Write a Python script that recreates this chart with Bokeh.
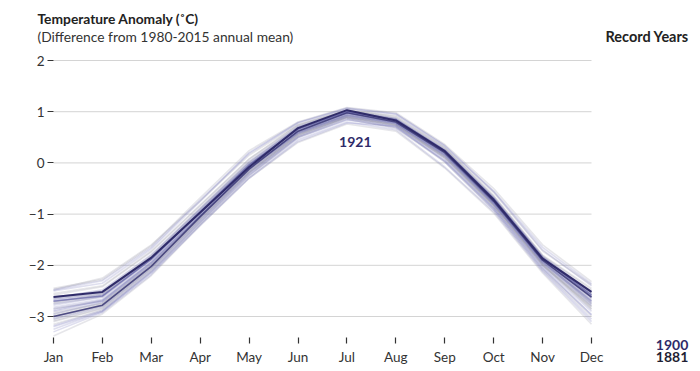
from bokeh.plotting import figure
from bokeh.models import Range1d, FixedTicker, Label, LinearAxis
from bokeh.embed import file_html
from bokeh.resources import INLINE

months = ["Jan", "Feb", "Mar", "Apr", "May", "Jun", "Jul", "Aug", "Sep", "Oct", "Nov", "Dec"]
y_ticks = [2, 1, 0, -1, -2, -3]
y_tick_labels = ["2", "1", "0", "\u22121", "\u22122", "\u22123"]

# Monthly anomalies (deg C) for the background years 1881-1920
y1881 = [-3.00, -2.78, -2.02, -1.05, -0.12, 0.62, 0.98, 0.80, 0.20, -0.75, -1.90, -2.62]
y1882 = [-2.85, -2.70, -1.95, -1.02, -0.10, 0.58, 0.92, 0.78, 0.15, -0.80, -1.95, -2.70]
y1883 = [-3.10, -2.85, -2.10, -1.15, -0.20, 0.52, 0.88, 0.72, 0.10, -0.85, -2.00, -2.80]
y1884 = [-3.25, -2.90, -2.15, -1.22, -0.30, 0.42, 0.78, 0.72, 0.02, -0.92, -2.10, -3.05]
y1885 = [-3.05, -2.80, -2.05, -1.10, -0.18, 0.55, 0.90, 0.75, 0.12, -0.82, -1.98, -2.85]
y1886 = [-2.95, -2.72, -1.98, -1.05, -0.12, 0.60, 0.95, 0.80, 0.18, -0.78, -1.92, -2.75]
y1887 = [-3.15, -2.88, -2.12, -1.18, -0.25, 0.50, 0.86, 0.68, 0.02, -0.92, -2.08, -3.00]
y1888 = [-3.30, -2.92, -2.18, -1.20, -0.28, 0.45, 0.80, 0.65, -0.08, -0.95, -2.12, -3.10]
y1889 = [-2.75, -2.62, -1.90, -0.98, -0.05, 0.65, 0.98, 0.82, 0.22, -0.72, -1.88, -2.65]
y1890 = [-3.05, -2.82, -2.08, -1.12, -0.20, 0.52, 0.88, 0.72, 0.08, -0.88, -2.02, -2.90]
y1891 = [-2.48, -2.25, -1.60, -0.74, 0.15, 0.75, 1.02, 0.92, 0.30, -0.58, -1.72, -2.38]
y1892 = [-3.20, -2.90, -2.14, -1.16, -0.24, 0.49, 0.84, 0.69, 0.04, -0.89, -2.06, -2.97]
y1893 = [-3.38, -2.95, -2.20, -1.22, -0.30, 0.40, 0.76, 0.62, -0.10, -0.98, -2.15, -3.15]
y1894 = [-2.90, -2.70, -1.96, -1.03, -0.11, 0.59, 0.93, 0.77, 0.16, -0.79, -1.94, -2.72]
y1895 = [-3.08, -2.84, -2.07, -1.11, -0.19, 0.54, 0.89, 0.74, 0.11, -0.84, -1.99, -2.82]
y1896 = [-2.88, -2.68, -1.94, -1.00, -0.08, 0.62, 0.96, 0.79, 0.19, -0.77, -1.91, -2.68]
y1897 = [-2.45, -2.28, -1.62, -0.68, 0.24, 0.80, 1.08, 0.98, 0.36, -0.50, -1.60, -2.32]
y1898 = [-3.02, -2.78, -2.03, -1.08, -0.16, 0.57, 0.91, 0.76, 0.14, -0.81, -1.96, -2.78]
y1899 = [-2.98, -2.76, -2.00, -1.06, -0.14, 0.58, 0.92, 0.77, 0.15, -0.80, -1.95, -2.76]
y1900 = [-2.70, -2.60, -1.88, -0.96, -0.04, 0.66, 1.00, 0.84, 0.24, -0.70, -1.86, -2.58]
y1901 = [-2.65, -2.55, -1.82, -0.90, 0.00, 0.70, 1.02, 0.86, 0.26, -0.68, -1.84, -2.55]
y1902 = [-2.82, -2.66, -1.93, -1.01, -0.09, 0.61, 0.94, 0.78, 0.17, -0.76, -1.90, -2.70]
y1903 = [-2.92, -2.74, -1.99, -1.04, -0.13, 0.59, 0.93, 0.79, 0.18, -0.78, -1.93, -2.74]
y1904 = [-3.18, -2.88, -2.12, -1.15, -0.23, 0.50, 0.85, 0.70, 0.05, -0.88, -2.05, -2.96]
y1905 = [-2.72, -2.58, -1.86, -0.94, -0.03, 0.67, 0.99, 0.83, 0.23, -0.71, -1.87, -2.60]
y1906 = [-2.48, -2.30, -1.65, -0.72, 0.18, 0.78, 1.06, 0.95, 0.33, -0.55, -1.65, -2.36]
y1907 = [-2.95, -2.74, -2.00, -1.07, -0.15, 0.56, 0.90, 0.75, 0.13, -0.82, -1.97, -2.80]
y1908 = [-2.78, -2.62, -1.89, -0.97, -0.06, 0.64, 0.97, 0.82, 0.21, -0.73, -1.88, -2.64]
y1909 = [-2.85, -2.69, -1.95, -1.02, -0.10, 0.60, 0.94, 0.80, 0.18, -0.77, -1.92, -2.70]
y1910 = [-2.70, -2.58, -1.87, -0.95, -0.04, 0.66, 0.98, 0.83, 0.22, -0.71, -1.86, -2.60]
y1911 = [-2.55, -2.40, -1.72, -0.82, 0.08, 0.74, 1.05, 0.90, 0.30, -0.64, -1.80, -2.45]
y1912 = [-2.68, -2.55, -1.85, -0.93, -0.02, 0.68, 1.00, 0.85, 0.24, -0.70, -1.85, -2.58]
y1913 = [-2.62, -2.50, -1.80, -0.88, 0.02, 0.70, 1.01, 0.86, 0.25, -0.69, -1.83, -2.54]
y1914 = [-2.50, -2.35, -1.68, -0.75, 0.20, 0.79, 1.07, 0.96, 0.34, -0.56, -1.70, -2.40]
y1915 = [-2.58, -2.42, -1.74, -0.84, 0.07, 0.73, 1.03, 0.88, 0.28, -0.65, -1.81, -2.48]
y1916 = [-2.75, -2.60, -1.88, -0.96, -0.05, 0.65, 0.98, 0.82, 0.21, -0.72, -1.87, -2.62]
y1917 = [-3.00, -2.80, -2.05, -1.10, -0.18, 0.55, 0.89, 0.74, 0.10, -0.84, -2.00, -2.86]
y1918 = [-2.66, -2.52, -1.83, -0.91, 0.00, 0.69, 1.01, 0.85, 0.25, -0.69, -1.84, -2.56]
y1919 = [-2.72, -2.56, -1.86, -0.94, -0.03, 0.67, 0.99, 0.84, 0.23, -0.70, -1.86, -2.59]
y1920 = [-2.64, -2.48, -1.79, -0.89, 0.03, 0.71, 1.02, 0.87, 0.26, -0.67, -1.83, -2.52]
# Highlighted year
y1921 = [-2.62, -2.52, -1.85, -0.97, -0.08, 0.68, 1.03, 0.83, 0.23, -0.72, -1.87, -2.52]

background = [y1881, y1882, y1883, y1884, y1885, y1886, y1887, y1888, y1889, y1890,
              y1891, y1892, y1893, y1894, y1895, y1896, y1897, y1898, y1899, y1900,
              y1901, y1902, y1903, y1904, y1905, y1906, y1907, y1908, y1909, y1910,
              y1911, y1912, y1913, y1914, y1915, y1916, y1917, y1918, y1919, y1920]

highlight_year = "1921"
record_labels = ["1900", "1881"]
title = "Temperature Anomaly (\u02daC)"
subtitle = "(Difference from 1980-2015 annual mean)"
right_header = "Record Years"

FONT = "Lato"
NAVY = "#2f2b69"

xs = list(range(len(months)))

# frame covers the whole canvas; axes are pinned with fixed_location
p = figure(width=700, height=371, output_backend="svg", toolbar_location=None,
           x_range=Range1d(-1.0836, 13.2286), y_range=Range1d(-4.074, 3.172),
           x_axis_type=None, y_axis_type=None,
           min_border_left=0, min_border_right=0, min_border_top=0, min_border_bottom=0)
p.outline_line_color = None
p.background_fill_color = "white"
p.border_fill_color = "white"

xaxis = LinearAxis(fixed_location=-3.41)
yaxis = LinearAxis(fixed_location=0)
p.add_layout(xaxis, "below")
p.add_layout(yaxis, "left")

xaxis.ticker = FixedTicker(ticks=xs)
xaxis.major_label_overrides = {i: m for i, m in enumerate(months)}
yaxis.ticker = FixedTicker(ticks=y_ticks)
yaxis.major_label_overrides = {t: l for t, l in zip(y_ticks, y_tick_labels)}
for ax in (xaxis, yaxis):
    ax.axis_line_color = None
    ax.minor_tick_line_color = None
    ax.major_tick_in = 0
    ax.major_tick_out = 6
    ax.major_tick_line_color = "#333333"
    ax.major_tick_line_width = 1.2
    ax.major_label_text_font = FONT
    ax.major_label_text_font_size = "13.5px"
    ax.major_label_text_color = "#333333"
xaxis.major_label_standoff = 5
yaxis.major_label_standoff = 3

# horizontal grid lines from Jan to Dec at the y ticks
p.segment(x0=[xs[0]] * len(y_ticks), x1=[xs[-1]] * len(y_ticks), y0=y_ticks, y1=y_ticks,
          line_color="#d4d4d4", line_width=1, level="underlay")

# background spaghetti lines
grey_xs, grey_ys, blue_xs, blue_ys = [], [], [], []
for i, s in enumerate(background):
    if i % 2 == 0:
        grey_xs.append(xs); grey_ys.append(s)
    else:
        blue_xs.append(xs); blue_ys.append(s)
p.multi_line(grey_xs, grey_ys, line_color="#8f8f9f", line_alpha=0.22, line_width=1.6)
p.multi_line(blue_xs, blue_ys, line_color="#6f6fb5", line_alpha=0.22, line_width=1.6)

p.line(xs, y1881, line_color="#3a3775", line_alpha=0.85, line_width=1.6)
p.line(xs, y1900, line_color="#5a58a0", line_alpha=0.55, line_width=1.4)
p.line(xs, y1921, line_color=NAVY, line_width=2)

# texts
p.add_layout(Label(x=-0.327, y=2.815, text=title, text_font=FONT,
                   text_font_style="bold", text_font_size="13.8px", text_color="#222222",
                   text_align="left", text_baseline="alphabetic"))
p.add_layout(Label(x=-0.327, y=2.47, text=subtitle, text_font=FONT,
                   text_font_size="13.8px", text_color="#333333",
                   text_align="left", text_baseline="alphabetic"))
p.add_layout(Label(x=12.99, y=2.47, text=right_header, text_font=FONT,
                   text_font_style="bold", text_font_size="14.5px", text_color="#222222",
                   text_align="right", text_baseline="alphabetic"))
p.add_layout(Label(x=6.17, y=0.4, text=highlight_year, text_font=FONT,
                   text_font_style="bold", text_font_size="14px", text_color=NAVY,
                   text_align="center", text_baseline="middle"))
p.add_layout(Label(x=12.98, y=-3.55, text=record_labels[0], text_font=FONT,
                   text_font_style="bold", text_font_size="14px", text_color=NAVY,
                   text_align="right", text_baseline="alphabetic"))
p.add_layout(Label(x=12.98, y=-3.80, text=record_labels[1], text_font=FONT,
                   text_font_style="bold", text_font_size="14px", text_color="#1f1f33",
                   text_align="right", text_baseline="alphabetic"))

open("out.html", "w").write(file_html(p, INLINE))
